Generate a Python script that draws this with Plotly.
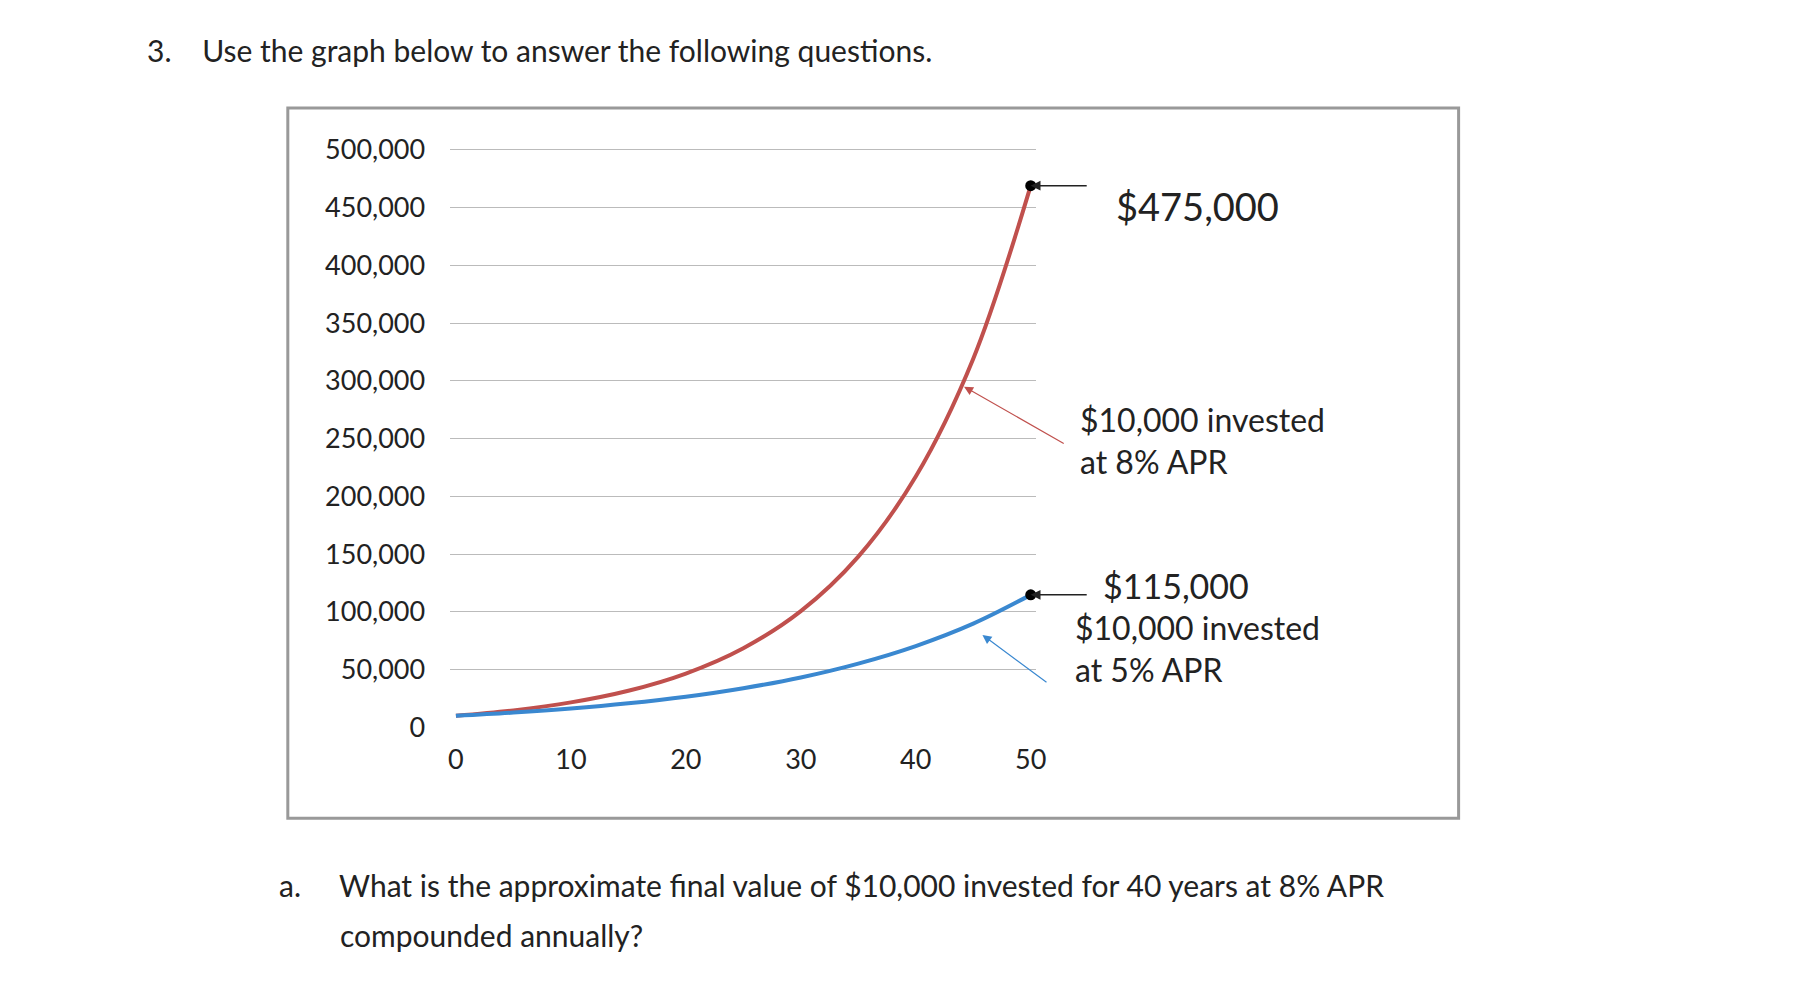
import plotly.graph_objects as go

years = [0, 5, 10, 15, 20, 25, 30, 35, 40, 45, 50]
value_8pct = [10000, 14700, 21600, 31700, 46600, 68500, 100600, 147800, 217200, 319200, 469000]
value_5pct = [10000, 12800, 16300, 20800, 26500, 33900, 43200, 55200, 70400, 89800, 114700]
x_ticks = [0, 10, 20, 30, 40, 50]
y_ticks = [0, 50000, 100000, 150000, 200000, 250000, 300000, 350000, 400000, 450000, 500000]

FONT = "Lato"
fig = go.Figure()
fig.add_trace(go.Scatter(x=years, y=value_8pct, mode="lines", line=dict(color="#c0504d", width=4, shape="spline")))
fig.add_trace(go.Scatter(x=years, y=value_5pct, mode="lines", line=dict(color="#3a88d0", width=4, shape="spline")))
fig.add_trace(go.Scatter(x=[50, 50], y=[value_8pct[-1], value_5pct[-1]], mode="markers",
                         marker=dict(color="black", size=11)))

fig.update_layout(
    width=1816, height=1004, showlegend=False,
    paper_bgcolor="white", plot_bgcolor="white",
    margin=dict(l=0, r=0, t=0, b=0),
    font=dict(family=FONT, color="#222", size=27),
    xaxis=dict(domain=[0.244, 0.569], range=[-0.5, 50.5], tickvals=x_ticks, showgrid=False,
               zeroline=False, ticks="", ticklabelstandoff=14),
    yaxis=dict(domain=[0.276, 0.873], range=[0, 505000], tickvals=y_ticks, tickformat=",",
               showgrid=True, gridcolor="#bbbbbb", zeroline=False, ticklabelstandoff=24),
)

# outer chart frame
fig.add_shape(type="rect", xref="paper", yref="paper", x0=0.154, x1=0.803, y0=0.183, y1=0.91,
              line=dict(color="#999", width=3))

fig.add_annotation(x=50, y=value_8pct[-1], ax=55, ay=value_8pct[-1], axref="x", ayref="y",
                   text="", showarrow=True, arrowhead=2, arrowsize=1.3, arrowwidth=1.5, arrowcolor="#222")
fig.add_annotation(x=50, y=value_5pct[-1], ax=55, ay=value_5pct[-1], axref="x", ayref="y",
                   text="", showarrow=True, arrowhead=2, arrowsize=1.3, arrowwidth=1.5, arrowcolor="#222")
fig.add_annotation(x=44.2, y=295000, ax=53, ay=245000, axref="x", ayref="y", text="",
                   showarrow=True, arrowhead=2, arrowsize=1.5, arrowwidth=1.2, arrowcolor="#c0504d")
fig.add_annotation(x=45.8, y=80000, ax=51.5, ay=38000, axref="x", ayref="y", text="",
                   showarrow=True, arrowhead=2, arrowsize=1.5, arrowwidth=1.2, arrowcolor="#3a88d0")

fig.add_annotation(xref="paper", yref="paper", x=0.612, y=0.835, xanchor="left", text="$475,000",
                   showarrow=False, font=dict(size=38))
fig.add_annotation(xref="paper", yref="paper", x=0.605, y=0.421, xanchor="left", text="$115,000",
                   showarrow=False, font=dict(size=34))
fig.add_annotation(xref="paper", yref="paper", x=0.592, y=0.57, xanchor="left", align="left",
                   text="$10,000 invested<br>at 8% APR", showarrow=False, font=dict(size=32))
fig.add_annotation(xref="paper", yref="paper", x=0.589, y=0.313, xanchor="left", align="left",
                   text="$10,000 invested<br>at 5% APR", showarrow=False, font=dict(size=32))

fig.add_annotation(xref="paper", yref="paper", x=0.075, y=0.99, xanchor="left", showarrow=False,
                   text="3.    Use the graph below to answer the following questions.", font=dict(size=30))
fig.add_annotation(xref="paper", yref="paper", x=0.148, y=0.094, xanchor="left", showarrow=False,
                   text="a.     What is the approximate final value of $10,000 invested for 40 years at 8% APR",
                   font=dict(size=30))
fig.add_annotation(xref="paper", yref="paper", x=0.182, y=0.043, xanchor="left", showarrow=False,
                   text="compounded annually?", font=dict(size=30))

fig.write_html("out.html")
